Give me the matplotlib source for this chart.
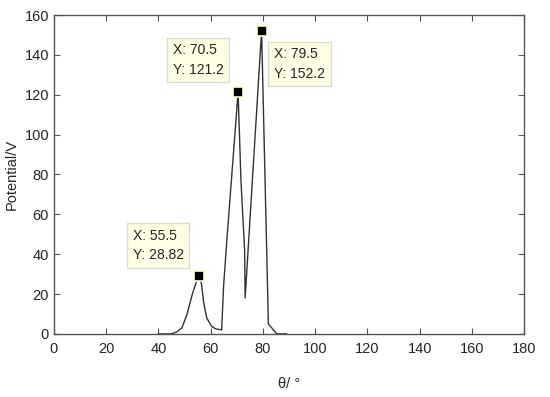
import matplotlib
matplotlib.use('Agg')
import matplotlib.pyplot as plt

plt.rcParams['font.family'] = ['Liberation Sans', 'DejaVu Sans']

# Curve
theta = [40, 45, 47, 49, 51, 53, 54.5, 55.5, 56.5, 57.3, 58.5, 60.4, 62, 64.2,
         65, 66.2, 70.5, 71.6, 73, 73.2, 79.5, 82.1, 85.3, 89]
potential = [0, 0, 1, 3, 10, 20, 26, 28.82, 25, 16, 8, 3.7, 2.5, 2,
             25, 47, 121.2, 77, 42, 18, 152.2, 5, 0, 0]

# Data tips
tip_x = [55.5, 70.5, 79.5]
tip_y = [28.82, 121.2, 152.2]
tip_labels = ['X: 55.5\nY: 28.82', 'X: 70.5\nY: 121.2', 'X: 79.5\nY: 152.2']
tip_offsets = [(-47.8, 34.2), (-46.9, 35.5), (8.9, -12.1)]

fig = plt.figure(figsize=(5.5, 3.97), dpi=100)
ax = fig.add_axes([0.098, 0.159, 0.855, 0.803])

ax.plot(theta, potential, color='#333333', linewidth=1.0)

ax.set_xlim(0, 180)
ax.set_ylim(0, 160)
ax.set_xticks(range(0, 181, 20))
ax.set_yticks(range(0, 161, 20))

for s in ax.spines.values():
    s.set_color('#555555')
    s.set_linewidth(1.0)
ax.tick_params(direction='in', top=True, right=True, length=4, width=0.8,
               colors='#555555', labelcolor='#262626', labelsize=10.5)
ax.tick_params(axis='x', pad=6)

ax.set_xlabel('θ/ °', fontsize=10.5, color='#262626', labelpad=15)
ax.set_ylabel('Potential/V', fontsize=10.5, color='#262626', labelpad=4)

for x, y, lab, off in zip(tip_x, tip_y, tip_labels, tip_offsets):
    ax.plot(x, y, marker='s', markersize=7, color='black',
            markeredgecolor='#FFFFD0', markeredgewidth=1.2, zorder=5)
    ax.annotate(lab, xy=(x, y), xytext=off, textcoords='offset points',
                ha='left', va='top', fontsize=10, color='#262626',
                linespacing=1.5,
                bbox=dict(boxstyle='square,pad=0.4', fc='#FFFFE6',
                          ec='#DDDDCC', lw=1.0))

fig.savefig('out.png', dpi=100)
